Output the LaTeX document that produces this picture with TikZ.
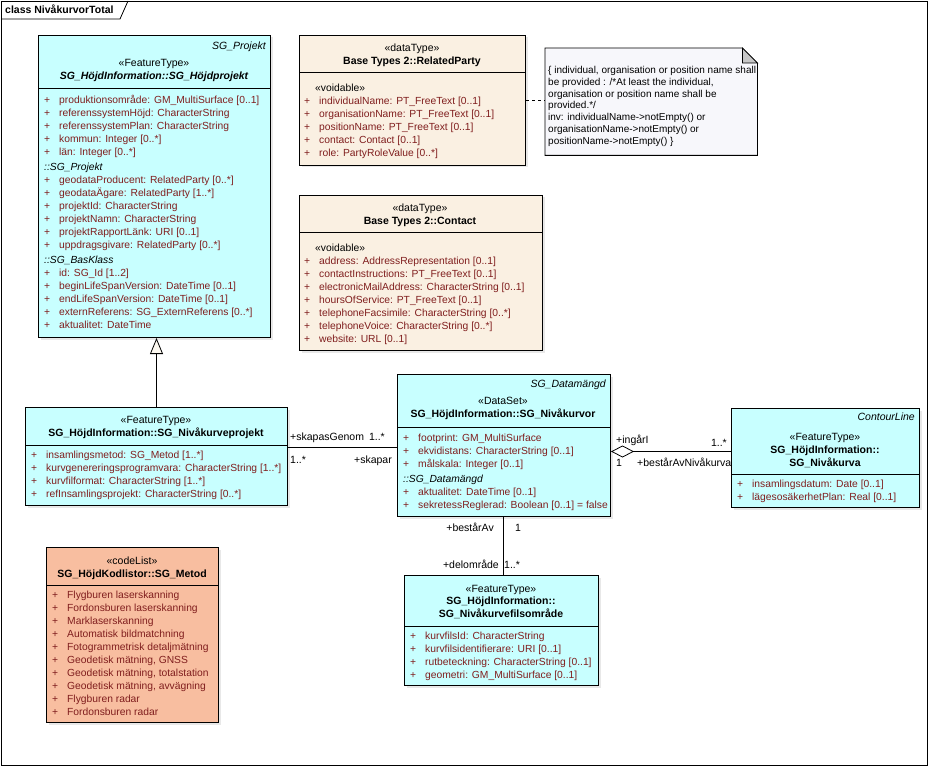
\documentclass[tikz,border=0pt]{standalone}
\usepackage{fontspec}
\setmainfont{Liberation Sans}
\usepackage{tikz}
\usetikzlibrary{arrows.meta,shadows}

\definecolor{cyanfill}{RGB}{200,255,255}
\definecolor{beigefill}{RGB}{250,240,226}
\definecolor{salmonfill}{RGB}{248,190,160}
\definecolor{notefill}{RGB}{247,247,251}
\definecolor{attrred}{RGB}{128,30,30}

\newcommand{\umlfont}{\fontsize{10.5}{13}\selectfont}
\newcommand{\attrfont}{\fontsize{10.3}{13}\selectfont}
\newcommand{\notefont}{\fontsize{10}{11.8}\selectfont}
\newcommand{\pl}[1]{\makebox[15pt][l]{+}#1}
\newcommand{\sect}[1]{{\color{black}\itshape #1}}
\newcommand{\vdbl}{\hspace{11pt}{\color{black}«voidable»}}

\tikzstyle{classbox} = [draw, line width=1pt, rectangle, anchor=north west, inner sep=0pt,
    drop shadow={shadow xshift=2pt, shadow yshift=-2pt, fill=black!18}]
\tikzstyle{ster} = [font=\umlfont, inner sep=0pt, anchor=base]
\tikzstyle{cname} = [font=\umlfont\bfseries, inner sep=0pt, anchor=base]
\tikzstyle{tagv} = [font=\umlfont\itshape, inner sep=0pt, anchor=base east]
\tikzstyle{attrs} = [font=\attrfont, text=attrred, inner sep=0pt, anchor=north west, align=left]
\tikzstyle{endlbl} = [font=\umlfont, inner sep=0pt]
\tikzstyle{sep} = [line width=1pt]

\begin{document}
\begin{tikzpicture}[x=1pt, y=-1pt, >=Latex]
    \useasboundingbox (0,0) rectangle (929,767);
    % frame
    \draw[line width=0.8pt] (1,1) rectangle (927,765);
    \draw[line width=0.8pt] (1,19) -- (120,19) -- (128,1);
    \node [font=\umlfont\bfseries, anchor=base west, inner sep=0pt] (title) at (5,14) {class NivåkurvorTotal};

    % SG_Höjdprojekt
    \node [classbox, fill=cyanfill, minimum width=232pt, minimum height=302pt] (hojdprojekt) at (38,35) {};
    \draw [sep] ([yshift=-54pt]hojdprojekt.north west) -- ([yshift=-54pt]hojdprojekt.north east);
    \node [tagv] (hp-tag) at (266,50) {SG\_Projekt};
    \node [ster] (hp-ster) at (154,67) {«FeatureType»};
    \node [cname] (hp-name) at (154,80) {\itshape SG\_HöjdInformation::SG\_Höjdprojekt};
    \node [attrs] (hp-attrs) at (44,94) {\strut\pl{produktionsområde: GM\_MultiSurface [0..1]}\\
        \pl{referenssystemHöjd: CharacterString}\\
        \pl{referenssystemPlan: CharacterString}\\
        \pl{kommun: Integer [0..*]}\\
        \pl{län: Integer [0..*]}\\[2pt]
        \sect{::SG\_Projekt}\\
        \pl{geodataProducent: RelatedParty [0..*]}\\
        \pl{geodataÄgare: RelatedParty [1..*]}\\
        \pl{projektId: CharacterString}\\
        \pl{projektNamn: CharacterString}\\
        \pl{projektRapportLänk: URI [0..1]}\\
        \pl{uppdragsgivare: RelatedParty [0..*]}\\[2pt]
        \sect{::SG\_BasKlass}\\
        \pl{id: SG\_Id [1..2]}\\
        \pl{beginLifeSpanVersion: DateTime [0..1]}\\
        \pl{endLifeSpanVersion: DateTime [0..1]}\\
        \pl{externReferens: SG\_ExternReferens [0..*]}\\
        \pl{aktualitet: DateTime}};

    % RelatedParty
    \node [classbox, fill=beigefill, minimum width=226pt, minimum height=130pt] (relparty) at (299,35) {};
    \draw [sep] ([yshift=-38pt]relparty.north west) -- ([yshift=-38pt]relparty.north east);
    \node [ster] (rp-ster) at (412,52) {«dataType»};
    \node [cname] (rp-name) at (412,65) {Base Types 2::RelatedParty};
    \node [attrs] (rp-attrs) at (304,82) {\strut\vdbl\\
        \pl{individualName: PT\_FreeText [0..1]}\\
        \pl{organisationName: PT\_FreeText [0..1]}\\
        \pl{positionName: PT\_FreeText [0..1]}\\
        \pl{contact: Contact [0..1]}\\
        \pl{role: PartyRoleValue [0..*]}};

    % constraint note
    \node [minimum width=212pt, minimum height=107pt, anchor=north west, inner sep=0pt] (note) at (545,48) {};
    \draw [fill=notefill, line width=0.8pt] (note.north west) -- ([xshift=-15pt]note.north east)
        -- ([yshift=-15pt]note.north east) -- (note.south east) -- (note.south west) -- cycle;
    \draw [fill=black!22, line width=0.8pt] ([xshift=-15pt]note.north east) -- ([xshift=-15pt,yshift=-15pt]note.north east)
        -- ([yshift=-15pt]note.north east) -- cycle;
    \node [font=\notefont, inner sep=0pt, anchor=north west, align=left] (note-text) at (548,65) {\strut\{ individual, organisation or position name shall\\
        be provided : /*At least the individual,\\
        organisation or position name shall be\\
        provided.*/\\
        inv: individualName->notEmpty() or\\
        organisationName->notEmpty() or\\
        positionName->notEmpty() \}};
    \draw [dashed, dash pattern=on 3pt off 3pt, line width=0.8pt] (relparty.east) -- (relparty.east -| note.west);

    % Contact
    \node [classbox, fill=beigefill, minimum width=243pt, minimum height=155pt] (contact) at (299,195) {};
    \draw [sep] ([yshift=-38pt]contact.north west) -- ([yshift=-38pt]contact.north east);
    \node [ster] (ct-ster) at (420,212) {«dataType»};
    \node [cname] (ct-name) at (420,225) {Base Types 2::Contact};
    \node [attrs] (ct-attrs) at (304,242) {\strut\vdbl\\
        \pl{address: AddressRepresentation [0..1]}\\
        \pl{contactInstructions: PT\_FreeText [0..1]}\\
        \pl{electronicMailAddress: CharacterString [0..1]}\\
        \pl{hoursOfService: PT\_FreeText [0..1]}\\
        \pl{telephoneFacsimile: CharacterString [0..*]}\\
        \pl{telephoneVoice: CharacterString [0..*]}\\
        \pl{website: URL [0..1]}};

    % SG_Nivåkurveprojekt
    \node [classbox, fill=cyanfill, minimum width=262pt, minimum height=98pt] (nivprojekt) at (25,407) {};
    \draw [sep] ([yshift=-38pt]nivprojekt.north west) -- ([yshift=-38pt]nivprojekt.north east);
    \node [ster] (np-ster) at (156,423) {«FeatureType»};
    \node [cname] (np-name) at (156,436) {SG\_HöjdInformation::SG\_Nivåkurveprojekt};
    \node [attrs] (np-attrs) at (31,449) {\strut\pl{insamlingsmetod: SG\_Metod [1..*]}\\
        \pl{kurvgenereringsprogramvara: CharacterString [1..*]}\\
        \pl{kurvfilformat: CharacterString [1..*]}\\
        \pl{refInsamlingsprojekt: CharacterString [0..*]}};
    \draw [-{Triangle[length=16pt,width=13pt,fill=beigefill!50!white]}, line width=0.8pt]
        (nivprojekt.north) -- (nivprojekt.north |- hojdprojekt.south);

    % SG_Nivåkurvor
    \node [classbox, fill=cyanfill, minimum width=213pt, minimum height=142pt] (nivakurvor) at (397,374) {};
    \draw [sep] ([yshift=-53pt]nivakurvor.north west) -- ([yshift=-53pt]nivakurvor.north east);
    \node [tagv] (nk-tag) at (606,387) {SG\_Datamängd};
    \node [ster] (nk-ster) at (503,404) {«DataSet»};
    \node [cname] (nk-name) at (503,417) {SG\_HöjdInformation::SG\_Nivåkurvor};
    \node [attrs] (nk-attrs) at (403,432) {\strut\pl{footprint: GM\_MultiSurface}\\
        \pl{ekvidistans: CharacterString [0..1]}\\
        \pl{målskala: Integer [0..1]}\\[2pt]
        \sect{::SG\_Datamängd}\\
        \pl{aktualitet: DateTime [0..1]}\\
        \pl{sekretessReglerad: Boolean [0..1] = false}};

    % skapasGenom / skapar
    \draw [line width=0.8pt] ([yshift=-2pt]nivakurvor.west) -- ([yshift=-2pt]nivakurvor.west -| nivprojekt.east);
    \node [endlbl, anchor=base west] (l-skapasgenom) at (290,440) {+skapasGenom};
    \node [endlbl, anchor=base east] (l-skapasgenom-m) at (385,440) {1..*};
    \node [endlbl, anchor=base west] (l-skapar-m) at (290,463) {1..*};
    \node [endlbl, anchor=base east] (l-skapar) at (392,463) {+skapar};

    % SG_Nivåkurva
    \node [classbox, fill=cyanfill, minimum width=188pt, minimum height=99pt] (nivakurva) at (731,408) {};
    \draw [sep] ([yshift=-66pt]nivakurva.north west) -- ([yshift=-66pt]nivakurva.north east);
    \node [tagv] (kv-tag) at (915,420) {ContourLine};
    \node [ster] (kv-ster) at (825,440) {«FeatureType»};
    \node [cname] (kv-name) at (825,453) {SG\_HöjdInformation::};
    \node [cname] (kv-name2) at (825,466) {SG\_Nivåkurva};
    \node [attrs] (kv-attrs) at (737,478) {\strut\pl{insamlingsdatum: Date [0..1]}\\
        \pl{lägesosäkerhetPlan: Real [0..1]}};

    % ingårI / bestårAvNivåkurva
    \draw [{Diamond[length=23pt,width=12pt,fill=white]}-, line width=0.8pt]
        ([yshift=-6pt]nivakurvor.east) -- ([yshift=-6pt]nivakurvor.east -| nivakurva.west);
    \node [endlbl, anchor=base west] (l-ingar) at (616,443) {+ingårI};
    \node [endlbl, anchor=base east] (l-ingar-m) at (727,446) {1..*};
    \node [endlbl, anchor=base west] (l-bestar-m) at (616,466) {1};
    \node [endlbl, anchor=base west] (l-bestar) at (637,466) {+bestårAvNivåkurva};

    % SG_Nivåkurvefilsområde
    \node [classbox, fill=cyanfill, minimum width=194pt, minimum height=110pt] (filsomrade) at (404,575) {};
    \draw [sep] ([yshift=-51pt]filsomrade.north west) -- ([yshift=-51pt]filsomrade.north east);
    \node [ster] (fo-ster) at (501,592) {«FeatureType»};
    \node [cname] (fo-name) at (501,604) {SG\_HöjdInformation::};
    \node [cname] (fo-name2) at (501,617) {SG\_Nivåkurvefilsområde};
    \node [attrs] (fo-attrs) at (410,630) {\strut\pl{kurvfilsId: CharacterString}\\
        \pl{kurvfilsidentifierare: URI [0..1]}\\
        \pl{rutbeteckning: CharacterString [0..1]}\\
        \pl{geometri: GM\_MultiSurface [0..1]}};

    % bestårAv / delområde
    \draw [line width=0.8pt] ([xshift=-1pt]nivakurvor.south) -- ([xshift=-1pt]nivakurvor.south |- filsomrade.north);
    \node [endlbl, anchor=base east] (l-bestarav) at (494,531) {+bestårAv};
    \node [endlbl, anchor=base west] (l-bestarav-m) at (515,531) {1};
    \node [endlbl, anchor=base east] (l-delomrade) at (499,568) {+delområde};
    \node [endlbl, anchor=base west] (l-delomrade-m) at (504,568) {1..*};

    % SG_Metod
    \node [classbox, fill=salmonfill, minimum width=172pt, minimum height=175pt] (metod) at (46,547) {};
    \draw [sep] ([yshift=-38pt]metod.north west) -- ([yshift=-38pt]metod.north east);
    \node [ster] (md-ster) at (132,564) {«codeList»};
    \node [cname] (md-name) at (132,577) {SG\_HöjdKodlistor::SG\_Metod};
    \node [attrs] (md-attrs) at (52,589) {\strut\pl{Flygburen laserskanning}\\
        \pl{Fordonsburen laserskanning}\\
        \pl{Marklaserskanning}\\
        \pl{Automatisk bildmatchning}\\
        \pl{Fotogrammetrisk detaljmätning}\\
        \pl{Geodetisk mätning, GNSS}\\
        \pl{Geodetisk mätning, totalstation}\\
        \pl{Geodetisk mätning, avvägning}\\
        \pl{Flygburen radar}\\
        \pl{Fordonsburen radar}};
\end{tikzpicture}
\end{document}
